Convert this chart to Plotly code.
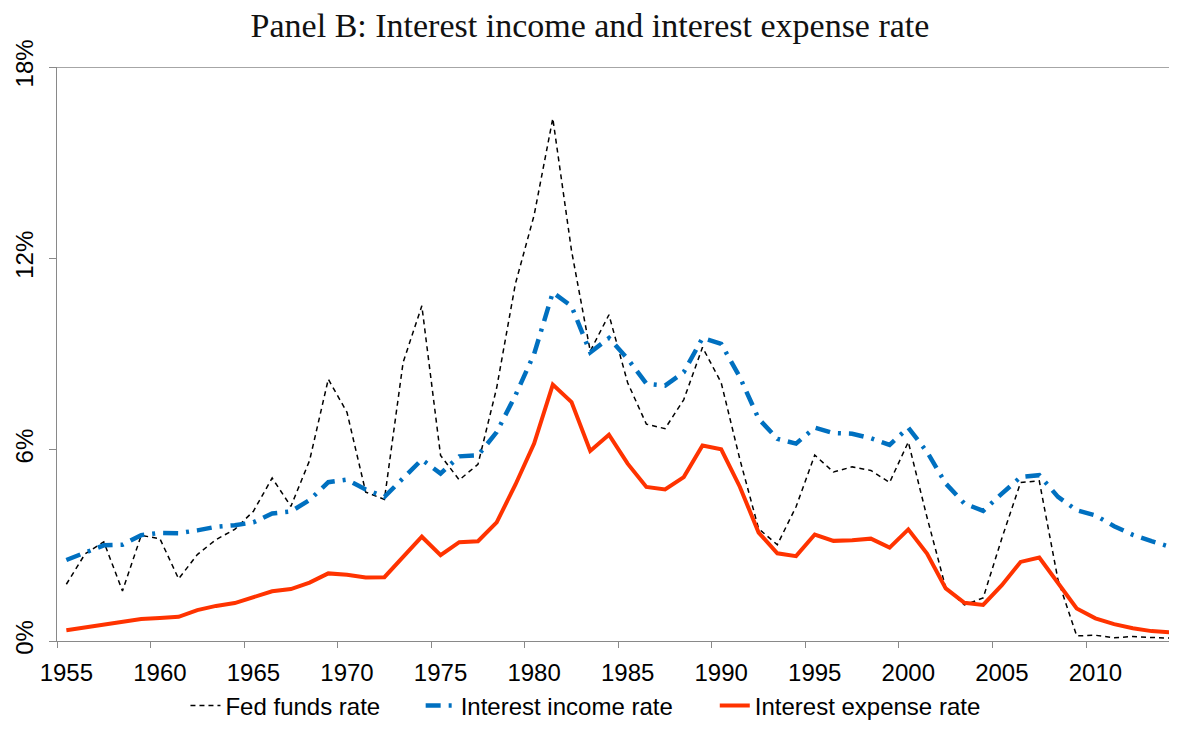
import plotly.graph_objects as go

years = list(range(1955, 2015))

fed_funds = [1.78, 2.73, 3.11, 1.57, 3.31, 3.21, 1.95, 2.71, 3.18, 3.50,
             4.07, 5.11, 4.22, 5.66, 8.21, 7.17, 4.67, 4.44, 8.74, 10.51,
             5.82, 5.05, 5.54, 7.94, 11.20, 13.35, 16.39, 12.24, 9.09, 10.23,
             8.10, 6.80, 6.66, 7.57, 9.21, 8.10, 5.69, 3.52, 3.02, 4.21,
             5.83, 5.30, 5.46, 5.35, 4.97, 6.24, 3.88, 1.67, 1.13, 1.35,
             3.22, 4.97, 5.02, 1.92, 0.16, 0.18, 0.10, 0.14, 0.11, 0.09]

income_rate = [2.54, 2.78, 3.00, 3.02, 3.32, 3.39, 3.38, 3.47, 3.58, 3.63,
               3.72, 4.00, 4.06, 4.42, 4.98, 5.06, 4.75, 4.52, 5.12, 5.69,
               5.25, 5.79, 5.82, 6.55, 7.70, 9.00, 10.93, 10.50, 9.05, 9.50,
               8.85, 8.07, 8.01, 8.43, 9.50, 9.32, 8.27, 6.97, 6.34, 6.19,
               6.69, 6.52, 6.50, 6.36, 6.15, 6.69, 5.93, 4.94, 4.31, 4.08,
               4.62, 5.14, 5.20, 4.52, 4.10, 3.94, 3.60, 3.33, 3.13, 2.95]

expense_rate = [0.34, 0.42, 0.53, 0.60, 0.69, 0.72, 0.76, 0.97, 1.10, 1.19,
                1.37, 1.56, 1.63, 1.83, 2.12, 2.08, 1.99, 2.00, 2.64, 3.27,
                2.69, 3.10, 3.13, 3.72, 4.90, 6.19, 8.04, 7.49, 5.96, 6.47,
                5.56, 4.83, 4.75, 5.14, 6.13, 6.01, 4.83, 3.40, 2.75, 2.66,
                3.34, 3.14, 3.16, 3.21, 2.93, 3.50, 2.74, 1.65, 1.20, 1.13,
                1.75, 2.48, 2.62, 1.81, 1.02, 0.71, 0.53, 0.40, 0.31, 0.27]

label_years = list(range(1955, 2015, 5))
y_ticks = [0, 6, 12, 18]
y_labels = ["0%", "6%", "12%", "18%"]

# category centres (each year occupies one slot, labels at slot centre)
xc = [y + 0.5 for y in years]

AX = "#898989"
SANS = "Liberation Sans, Arial, sans-serif"
W, H = 1169, 741   # page body has an 8px margin

fig = go.Figure()
fig.add_trace(go.Scatter(x=xc, y=fed_funds, mode="lines", name="Fed funds rate",
                         legend="legend",
                         line=dict(color="black", width=1.5, dash="5px,4px")))
fig.add_trace(go.Scatter(x=xc, y=income_rate, mode="lines", name="Interest income rate",
                         legend="legend2",
                         line=dict(color="#0070C0", width=4.5, dash="15px,8px,3px,8px")))
fig.add_trace(go.Scatter(x=xc, y=expense_rate, mode="lines", name="Interest expense rate",
                         legend="legend3",
                         line=dict(color="#FF3300", width=4)))

fig.add_shape(type="line", xref="paper", x0=0, x1=1, yref="y", y0=18, y1=18,
              line=dict(color=AX, width=1.3))

leg = dict(orientation="h", xanchor="left", y=-0.113, yanchor="middle",
           font=dict(family=SANS, size=24, color="black"), bgcolor="rgba(0,0,0,0)")

fig.update_layout(
    width=W, height=H,
    margin=dict(l=49, r=0, t=59, b=108),
    paper_bgcolor="white", plot_bgcolor="white",
    title=dict(text="Panel B: Interest income and interest expense rate",
               font=dict(family="Liberation Serif, Times New Roman, serif", size=34, color="#111"),
               x=582 / W, xanchor="center", xref="container",
               y=1 - 17 / H, yanchor="middle", yref="container"),
    xaxis=dict(range=[1955, 1955 + 1120 / 18.71], showgrid=False, zeroline=False,
               showline=True, linecolor=AX, linewidth=1.3,
               tickmode="array", tickvals=[y + 0.5 for y in label_years],
               ticktext=[str(y) for y in label_years], ticks="",
               ticklabelstandoff=10,
               tickfont=dict(family=SANS, size=24, color="black"),
               minor=dict(tickmode="array", tickvals=label_years, ticks="outside",
                          ticklen=6, tickwidth=1.3, tickcolor=AX, showgrid=False)),
    yaxis=dict(range=[0, 18], showgrid=False, zeroline=False,
               showline=True, linecolor=AX, linewidth=1.3,
               tickmode="array", tickvals=y_ticks, ticktext=y_labels,
               ticks="outside", ticklen=7, tickwidth=1.3, tickcolor=AX,
               tickangle=-90, ticklabelstandoff=6,
               tickfont=dict(family=SANS, size=24, color="black")),
    showlegend=True,
    legend=dict(leg, x=0.1147),
    legend2=dict(leg, x=0.3247),
    legend3=dict(leg, x=0.5873),
)

fig.write_html("out.html")
